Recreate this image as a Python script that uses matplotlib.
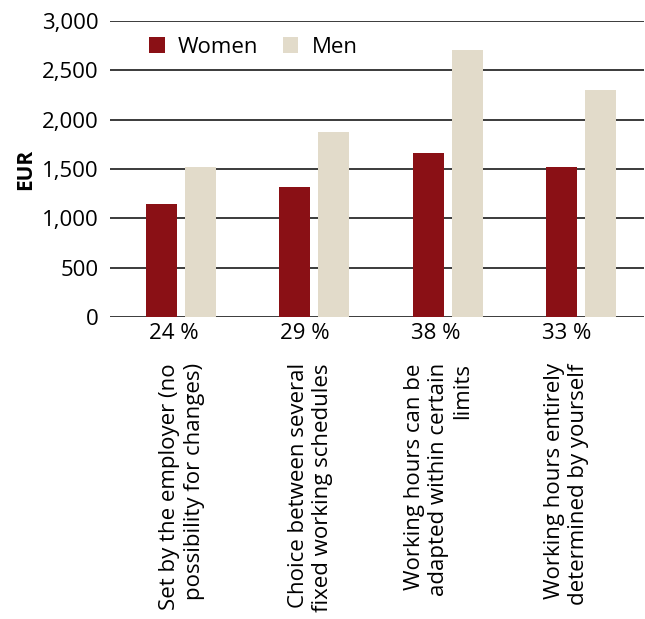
import matplotlib
matplotlib.use("Agg")
import matplotlib.pyplot as plt
import numpy as np

plt.rcParams['font.family'] = ['Open Sans', 'DejaVu Sans']

categories = [
    "Set by the employer (no\npossibility for changes)",
    "Choice between several\nfixed working schedules",
    "Working hours can be\nadapted within certain\nlimits",
    "Working hours entirely\ndetermined by yourself",
]
shares = ["24 %", "29 %", "38 %", "33 %"]
women = [1150, 1320, 1665, 1520]
men = [1520, 1870, 2700, 2300]

WOMEN_COLOR = "#8a1015"
MEN_COLOR = "#e2dbca"

fig = plt.figure(figsize=(6.45, 6.19), dpi=100)
ax = fig.add_axes([110 / 645, 1 - 317.3 / 619, 534 / 645, 296.6 / 619])

x = np.arange(len(categories))
w = 0.232
ax.bar(x - 0.146, women, w, color=WOMEN_COLOR, label="Women", zorder=3)
ax.bar(x + 0.146, men, w, color=MEN_COLOR, label="Men", zorder=3)

ax.set_xlim(-0.529, 3.468)
ax.set_ylim(0, 3000)
ax.set_yticks(range(0, 3001, 500))
ax.set_yticklabels([f"{v:,}" for v in range(0, 3001, 500)], fontsize=16)
ax.yaxis.grid(True, color="#1a1a1a", linewidth=1.2, zorder=0)
ax.set_axisbelow(True)
for s in ax.spines.values():
    s.set_visible(False)
ax.tick_params(axis='y', length=0, pad=8)

# category labels, drawn rotated below the share labels
ax.set_xticks(x * 0.96 + 0.01)
ax.set_xticklabels(categories, rotation=90, fontsize=16, linespacing=1.2)
for lab in ax.get_xticklabels():
    lab.set_multialignment('right')
ax.tick_params(axis='x', length=0, pad=33)

for i, s in enumerate(shares):
    ax.annotate(s, (i * 0.98 - 0.05, 0), xycoords=ax.get_xaxis_transform(),
                xytext=(0, -12), textcoords='offset points',
                ha='center', va='center', fontsize=16)

ax.set_ylabel("EUR", fontsize=15, fontweight='bold', labelpad=4)

ax.legend(loc='upper left', bbox_to_anchor=(0.073, 0.945), ncol=2, frameon=False,
          fontsize=16, handlelength=0.7, handleheight=0.7, handletextpad=0.6,
          columnspacing=1.1, borderpad=0, borderaxespad=0)

fig.savefig("out.png", dpi=100)
